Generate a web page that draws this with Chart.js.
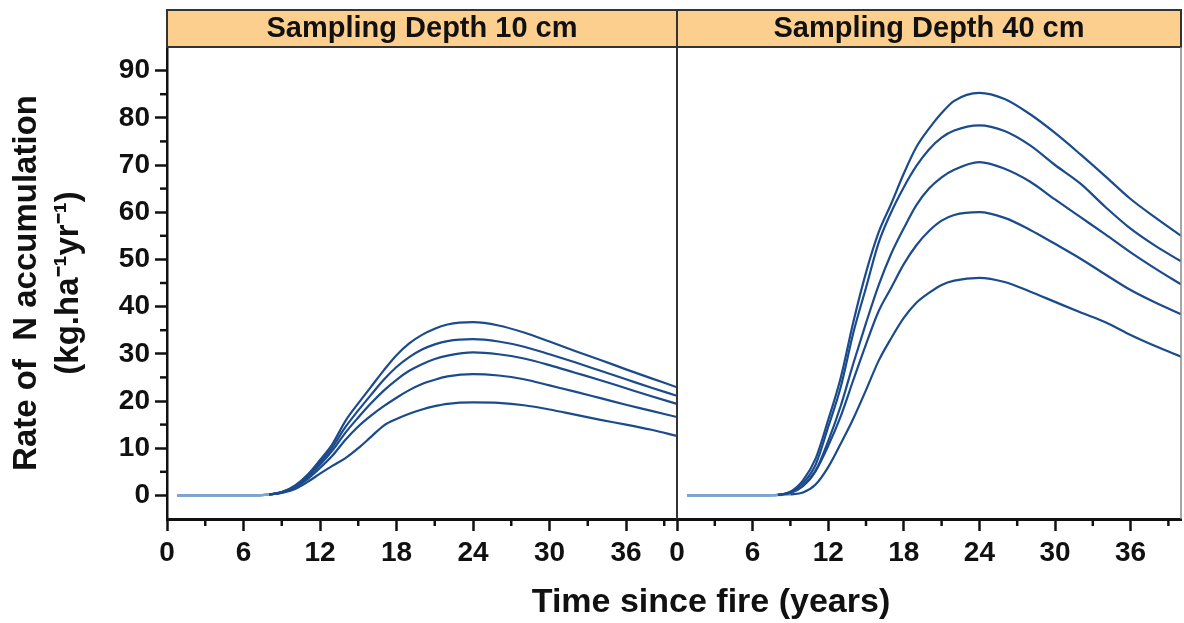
<!DOCTYPE html>
<html><head><meta charset="utf-8">
<script src="https://cdn.jsdelivr.net/npm/chart.js@4.4.1/dist/chart.umd.min.js"></script>
<style>
html,body{margin:0;padding:0;background:#fff;}
#wrap{position:relative;width:1184px;height:623px;overflow:hidden;font-family:"Liberation Sans",Arial,sans-serif;}
#c1{position:absolute;left:0;top:0;}
#c2{position:absolute;left:640px;top:0;}
#xt{position:absolute;left:361px;width:700px;top:581px;text-align:center;font-weight:bold;font-size:34px;color:#111;line-height:38px;}
</style></head><body>
<div id="wrap">
<canvas id="c2" width="544" height="623"></canvas>
<canvas id="c1" width="678" height="623"></canvas>
<div id="xt">Time since fire (years)</div>
</div>
<script>
// ---- data ----
const years = [0.8, 4, 7, 8, 9, 10, 11, 12, 13, 14, 15, 16, 17, 18, 19, 20, 21, 22, 24, 26, 28, 30, 32, 34, 36, 38, 40];

const d10a = [0,0,0,0.2,0.7,2.0,4.3,7.5,11,15.8,19.5,23,26.5,29.7,32.2,34,35.3,36.2,36.7,36,34.5,32.6,30.6,28.7,26.7,24.8,22.9];
const d10b = [0,0,0,0.2,0.7,1.9,4.0,7.0,10.3,14.5,18,21.3,24.5,27.2,29.3,30.9,32,32.7,33.1,32.6,31.5,29.9,28.2,26.4,24.6,22.8,21.1];
const d10c = [0,0,0,0.2,0.6,1.8,3.8,6.5,9.6,13.3,16.5,19.5,22.2,24.5,26.4,27.8,28.9,29.6,30.3,29.9,29,27.6,26,24.4,22.7,21,19.4];
const d10d = [0,0,0,0.2,0.6,1.6,3.4,5.8,8.5,11.8,14.6,16.9,18.9,20.7,22.3,23.6,24.5,25.2,25.7,25.4,24.6,23.3,22,20.6,19.2,17.9,16.6];
const d10e = [0,0,0,0.2,0.5,1.3,2.8,4.6,6.3,7.9,10,12.4,14.8,16.2,17.3,18.2,18.9,19.4,19.7,19.6,19.1,18.2,17.1,16,15,13.9,12.6];

const d40a = [0,0,0,0.1,0.8,3.2,7.8,16,25,36.8,47.2,55.7,61.8,68.2,73.8,77.7,81,83.6,85.3,84,80.8,76.8,72.3,67.6,62.8,58.8,55];
const d40b = [0,0,0,0.1,0.7,2.6,6.5,14.5,23,34.5,44,53.5,60,65.3,69.8,73.3,75.8,77.3,78.4,77.2,74.2,70,66.1,61.1,56.5,52.8,49.6];
const d40c = [0,0,0,0.1,0.6,2.0,5.2,11.5,19,28,36.5,44.5,51.2,56.6,61.5,65,67.4,69,70.6,69.2,66.5,62.7,59,55.3,51.5,48,44.7];
const d40d = [0,0,0,0.1,0.5,2.0,5.2,10.5,16.8,24.5,32,39,44,49,53,56,58.2,59.4,60,58.8,56.3,53.3,50.2,46.8,43.5,40.8,38.4];
const d40e = [0,0,0,0.05,0.2,0.6,2.3,6,11,16.3,22.3,28.5,33.3,37.6,40.8,42.9,44.6,45.5,46.1,45.2,43.2,41,38.8,36.7,34,31.6,29.4];

const xTickValues = [0, 6, 12, 18, 24, 30, 36];
const xMinorValues = [3, 9, 15, 21, 27, 33, 39];
const yTickValues = [0, 10, 20, 30, 40, 50, 60, 70, 80, 90];
const yMinorValues = [5, 15, 25, 35, 45, 55, 65, 75, 85];
const panelTitles = ['Sampling Depth 10 cm', 'Sampling Depth 40 cm'];
const yTitleLines = ['Rate of  N accumulation', '(kg.ha\u207B\u00B9yr\u207B\u00B9)'];

// ---- styling ----
const FONT = '"Liberation Sans", Arial, sans-serif';
const LINE = '#1b4b8c';
const FLAT = '#7fa4cf';
const INK = '#111';

function makeDatasets(seriesList) {
  return seriesList.map(s => ({
    data: years.map((x, i) => ({x: x, y: s[i]})),
    borderColor: LINE,
    borderWidth: 2.2,
    pointRadius: 0,
    fill: false,
    cubicInterpolationMode: 'monotone',
    segment: {
      borderColor: c => (c.p0.parsed.y < 0.3 && c.p1.parsed.y < 0.3) ? FLAT : undefined
    }
  }));
}

const decor = {
  id: 'decor',
  beforeDraw(chart) {
    const {ctx, chartArea: a} = chart;
    const tb = chart.titleBlock;
    ctx.save();
    ctx.fillStyle = '#fccf8e';
    ctx.fillRect(a.left, tb.top, a.right - a.left, a.top - tb.top);
    ctx.restore();
  },
  afterDraw(chart, args, opts) {
    const {ctx, chartArea: a} = chart;
    const tb = chart.titleBlock;
    ctx.save();
    ctx.strokeStyle = '#333';
    ctx.lineWidth = 2;
    ctx.strokeRect(a.left, tb.top, a.right - a.left, a.top - tb.top);
    if (opts.leftEdge) {
      ctx.beginPath(); ctx.moveTo(a.left, a.top); ctx.lineTo(a.left, a.bottom); ctx.stroke();
    }
    ctx.strokeStyle = opts.rightColor;
    ctx.lineWidth = opts.rightWidth;
    ctx.beginPath(); ctx.moveTo(a.right, a.top); ctx.lineTo(a.right, a.bottom); ctx.stroke();
    ctx.strokeStyle = INK;
    ctx.lineWidth = 2.5;
    const xs = chart.scales.x;
    xMinorValues.forEach(v => {
      const px = xs.getPixelForValue(v);
      ctx.beginPath(); ctx.moveTo(px, a.bottom); ctx.lineTo(px, a.bottom + 7); ctx.stroke();
    });
    if (opts.yMinor) {
      const ys = chart.scales.y;
      yMinorValues.forEach(v => {
        const py = ys.getPixelForValue(v);
        ctx.beginPath(); ctx.moveTo(a.left - 7, py); ctx.lineTo(a.left, py); ctx.stroke();
      });
    }
    ctx.restore();
  }
};

function xScale() {
  return {
    type: 'linear', min: 0, max: 40,
    afterBuildTicks: s => { s.ticks = xTickValues.map(v => ({value: v})); },
    afterFit: s => { s.height = 104; },
    ticks: {font: {family: FONT, size: 28, weight: 'bold', lineHeight: 1.0}, color: INK, padding: 8, autoSkip: false, maxRotation: 0},
    grid: {drawOnChartArea: false, drawTicks: true, tickLength: 12, tickWidth: 2.5, tickColor: INK},
    border: {display: true, color: INK, width: 3}
  };
}

function titleOpts(text) {
  return {display: true, text: text, fullSize: false, color: INK,
    font: {family: FONT, size: 29, weight: 'bold', lineHeight: 1.0},
    padding: {top: 4, bottom: 4}};
}

new Chart(document.getElementById('c1'), {
  type: 'line',
  data: {datasets: makeDatasets([d10a, d10b, d10c, d10d, d10e])},
  options: {
    responsive: false, animation: false, devicePixelRatio: 1,
    layout: {padding: {top: 10, left: 0, right: 1, bottom: 0}},
    plugins: {
      legend: {display: false}, tooltip: {enabled: false},
      title: titleOpts(panelTitles[0]),
      decor: {rightColor: '#333', rightWidth: 2, leftEdge: false, yMinor: true}
    },
    scales: {
      x: xScale(),
      y: {
        type: 'linear', min: -5, max: 95,
        afterBuildTicks: s => { s.ticks = yTickValues.map(v => ({value: v})); },
        afterFit: s => { s.width = 167; },
        ticks: {font: {family: FONT, size: 28, weight: 'bold'}, color: INK, padding: 5, autoSkip: false},
        grid: {drawOnChartArea: false, drawTicks: true, tickLength: 12, tickWidth: 2.5, tickColor: INK},
        border: {display: true, color: INK, width: 2.5},
        title: {display: true, text: yTitleLines, color: INK,
          font: {family: FONT, size: 33, weight: 'bold', lineHeight: 1.3},
          padding: {top: 5, bottom: 0}}
      }
    }
  },
  plugins: [decor]
});

new Chart(document.getElementById('c2'), {
  type: 'line',
  data: {datasets: makeDatasets([d40a, d40b, d40c, d40d, d40e])},
  options: {
    responsive: false, animation: false, devicePixelRatio: 1,
    layout: {padding: {top: 10, left: 37, right: 3, bottom: 0}},
    plugins: {
      legend: {display: false}, tooltip: {enabled: false},
      title: titleOpts(panelTitles[1]),
      decor: {rightColor: '#888', rightWidth: 1.5, leftEdge: true, yMinor: false}
    },
    scales: {
      x: xScale(),
      y: {type: 'linear', min: -5, max: 95, display: false}
    }
  },
  plugins: [decor]
});
</script>
</body></html>
